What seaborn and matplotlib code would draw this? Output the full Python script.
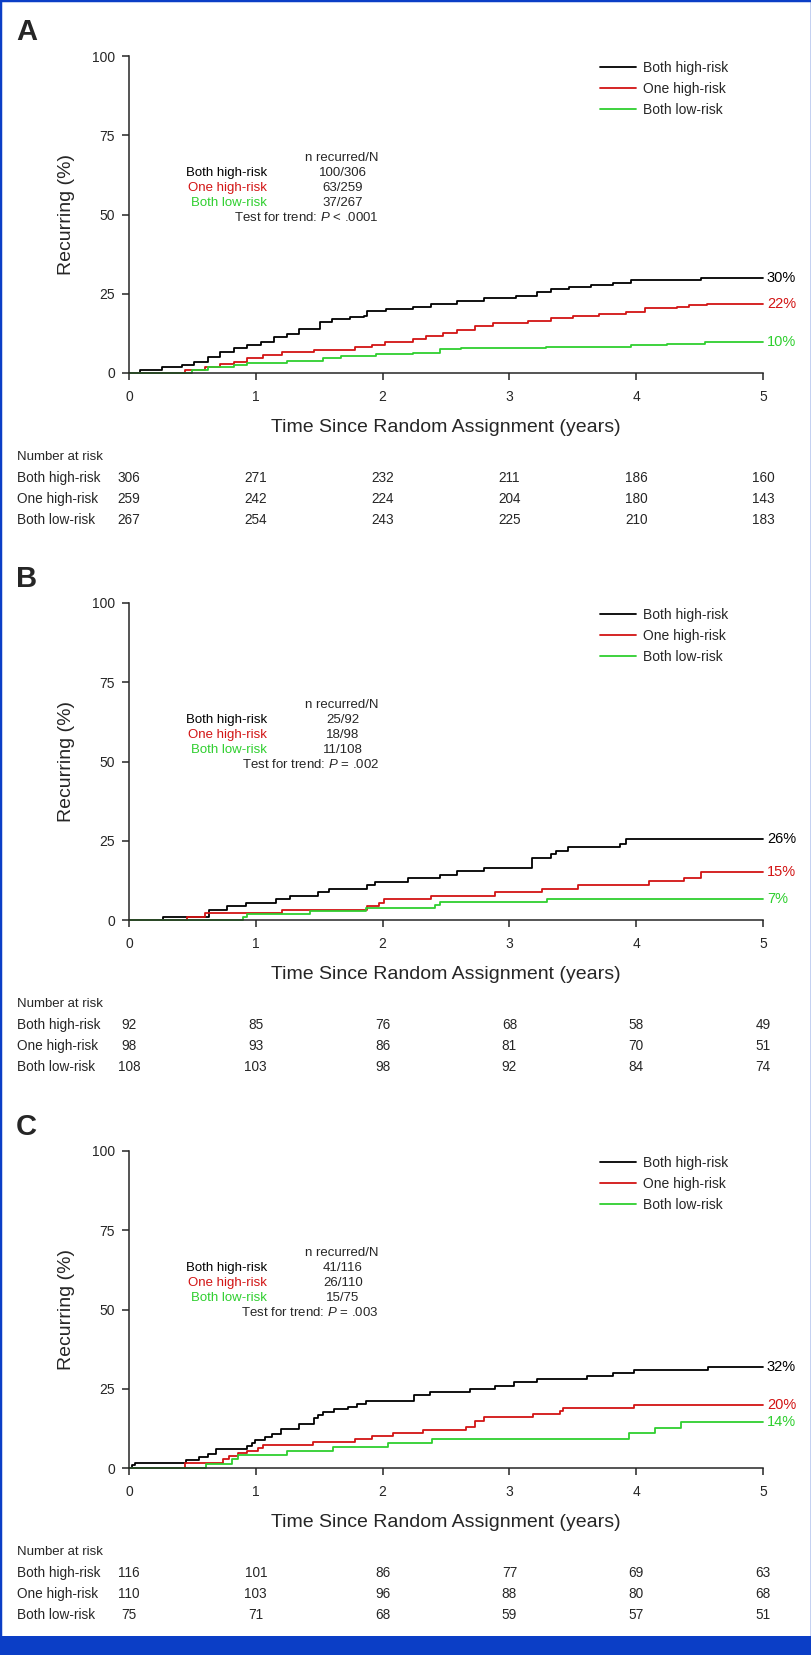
import numpy as np
import pandas as pd
import matplotlib
matplotlib.use("Agg")
import matplotlib.pyplot as plt
import matplotlib.transforms as mtransforms
from matplotlib.patches import Rectangle
import seaborn as sns

# ── data ─────────────────────────────────────────────────────

GROUPS = ["Both high-risk", "One high-risk", "Both low-risk"]
COLORS = {"Both high-risk": "#000000",
          "One high-risk": "#d21414",
          "Both low-risk": "#2fcf2f"}
YEARS = [0, 1, 2, 3, 4, 5]
Y_TICKS = [0, 25, 50, 75, 100]

# Panel A
a_high_t = [0, 0.09, 0.26, 0.42, 0.51, 0.62, 0.72, 0.83, 0.93, 1.04, 1.14, 1.25,
            1.34, 1.51, 1.60, 1.74, 1.85, 1.88, 2.03, 2.24, 2.38, 2.59, 2.80,
            3.05, 3.22, 3.33, 3.47, 3.64, 3.82, 3.96, 4.51, 5.0]
a_high_y = [0, 1.0, 1.8, 2.5, 3.6, 5.2, 6.7, 7.8, 8.8, 9.9, 11.3, 12.3,
            13.8, 16.2, 17.0, 17.6, 18.0, 19.7, 20.1, 20.7, 21.8, 22.8, 23.8,
            24.3, 25.5, 26.4, 27.0, 27.8, 28.3, 29.2, 30.1, 30.1]
a_one_t = [0, 0.44, 0.60, 0.72, 0.83, 0.93, 1.06, 1.21, 1.46, 1.78, 1.92, 2.02,
           2.24, 2.34, 2.48, 2.59, 2.73, 2.87, 3.15, 3.33, 3.50, 3.71, 3.92,
           4.07, 4.32, 4.42, 4.56, 5.0]
a_one_y = [0, 1.0, 2.0, 2.7, 3.6, 4.6, 5.7, 6.7, 7.2, 8.1, 8.8, 9.9,
           10.6, 11.7, 12.5, 13.6, 14.8, 15.9, 16.5, 17.3, 18.0, 18.6, 19.4,
           20.4, 20.9, 21.5, 21.8, 21.8]
a_low_t = [0, 0.50, 0.62, 0.83, 0.93, 1.25, 1.53, 1.67, 1.95, 2.24, 2.45, 2.62,
           3.29, 3.96, 4.24, 4.54, 5.0]
a_low_y = [0, 1.0, 1.8, 2.5, 3.3, 3.8, 4.6, 5.4, 6.0, 6.4, 7.5, 7.8,
           8.1, 8.7, 9.2, 9.8, 9.8]
a_end = ["30%", "22%", "10%"]
a_recurred = ["100/306", "63/259", "37/267"]
a_p = "< .0001"
a_risk = [[306, 271, 232, 211, 186, 160],
          [259, 242, 224, 204, 180, 143],
          [267, 254, 243, 225, 210, 183]]

# Panel B
b_high_t = [0, 0.27, 0.63, 0.77, 0.92, 1.16, 1.27, 1.49, 1.58, 1.88, 1.94, 2.20,
            2.45, 2.59, 2.80, 3.18, 3.33, 3.37, 3.46, 3.87, 3.92, 5.0]
b_high_y = [0, 1.1, 3.3, 4.4, 5.5, 6.6, 7.7, 8.8, 9.9, 11.0, 12.1, 13.2,
            14.3, 15.4, 16.5, 19.6, 20.7, 21.8, 22.9, 24.1, 25.6, 25.6]
b_one_t = [0, 0.46, 0.60, 1.21, 1.88, 1.97, 2.01, 2.38, 2.89, 3.26, 3.54, 4.10,
           4.38, 4.51, 5.0]
b_one_y = [0, 1.1, 2.2, 3.3, 4.4, 5.5, 6.6, 7.7, 8.8, 9.9, 11.0, 12.2,
           13.4, 15.2, 15.2]
b_low_t = [0, 0.90, 0.93, 1.43, 1.87, 2.41, 2.45, 3.30, 5.0]
b_low_y = [0, 0.9, 1.9, 2.8, 3.7, 4.6, 5.7, 6.7, 6.7]
b_end = ["26%", "15%", "7%"]
b_recurred = ["25/92", "18/98", "11/108"]
b_p = "= .002"
b_risk = [[92, 85, 76, 68, 58, 49],
          [98, 93, 86, 81, 70, 51],
          [108, 103, 98, 92, 84, 74]]

# Panel C
c_high_t = [0, 0.02, 0.05, 0.45, 0.55, 0.62, 0.69, 0.93, 0.97, 0.99, 1.07, 1.13,
            1.20, 1.34, 1.46, 1.49, 1.53, 1.62, 1.73, 1.80, 1.87, 2.25, 2.37,
            2.69, 2.89, 3.04, 3.22, 3.61, 3.82, 3.98, 4.57, 5.0]
c_high_y = [0, 0.9, 1.7, 2.6, 3.5, 4.4, 6.1, 7.0, 7.9, 8.8, 9.7, 10.6,
            12.3, 14.0, 15.8, 16.7, 17.6, 18.5, 19.4, 20.3, 21.1, 23.1, 24.0,
            25.0, 26.0, 27.0, 28.0, 29.0, 30.0, 31.0, 32.0, 32.0]
c_one_t = [0, 0.44, 0.74, 0.79, 0.86, 0.93, 1.02, 1.06, 1.45, 1.78, 1.92, 2.08,
           2.32, 2.66, 2.73, 2.80, 3.19, 3.40, 3.42, 3.98, 5.0]
c_one_y = [0, 1.7, 2.7, 3.7, 4.6, 5.5, 6.4, 7.3, 8.2, 9.1, 10.0, 11.1,
           12.1, 13.0, 14.9, 16.0, 17.0, 18.0, 18.9, 19.9, 19.9]
c_low_t = [0, 0.61, 0.81, 0.86, 1.25, 1.61, 2.04, 2.39, 3.94, 4.15, 4.35, 5.0]
c_low_y = [0, 1.3, 2.7, 4.0, 5.3, 6.7, 8.0, 9.3, 10.9, 12.6, 14.4, 14.4]
c_end = ["32%", "20%", "14%"]
c_recurred = ["41/116", "26/110", "15/75"]
c_p = "= .003"
c_risk = [[116, 101, 86, 77, 69, 63],
          [110, 103, 96, 88, 80, 68],
          [75, 71, 68, 59, 57, 51]]

# ── style ─────────────────────────────────────────────────────

sns.set_style("ticks")
plt.rcParams["font.family"] = ["Liberation Sans", "DejaVu Sans"]
plt.rcParams["mathtext.fontset"] = "custom"
plt.rcParams["mathtext.rm"] = "Liberation Sans"
plt.rcParams["mathtext.it"] = "Liberation Sans:italic"

W, H = 812, 1655
BLUE = "#0b3ec6"
AX_L, AX_R = 129, 763


def fy(py):
    """pixel row (from top) -> figure fraction"""
    return 1 - py / H


def draw_panel(fig, top, letter, curves, ends, recurred, p_text, risk):
    bottom = top + 317
    ax = fig.add_axes([AX_L / W, fy(bottom), (AX_R - AX_L) / W, 317 / H])

    frames = [pd.DataFrame({"time": t, "pct": y, "group": g})
              for g, (t, y) in zip(GROUPS, curves)]
    df = pd.concat(frames, ignore_index=True)
    sns.lineplot(data=df, x="time", y="pct", hue="group", hue_order=GROUPS,
                 palette=COLORS, estimator=None, drawstyle="steps-post",
                 linewidth=1.3, clip_on=False, ax=ax)

    ax.set_xlim(0, 5)
    ax.set_ylim(0, 100)
    ax.set_xticks(YEARS)
    ax.set_yticks(Y_TICKS)
    sns.despine(ax=ax)
    for s in ("left", "bottom"):
        ax.spines[s].set_linewidth(1.1)
    ax.tick_params(axis="both", length=5, width=1.1, labelsize=10)
    ax.tick_params(axis="x", pad=7)
    ax.tick_params(axis="y", pad=5)
    ax.set_xlabel("Time Since Random Assignment (years)", fontsize=14,
                  labelpad=11)
    ax.set_ylabel("Recurring (%)", fontsize=14, labelpad=12)

    sns.move_legend(ax, "upper left", bbox_to_anchor=(0.743, 0.985),
                    frameon=False, title=None, fontsize=10,
                    handlelength=2.6, handletextpad=0.5, labelspacing=0.5,
                    borderpad=0, borderaxespad=0)

    # end-of-curve percentages
    for g, (t, y), lab in zip(GROUPS, curves, ends):
        ax.text(5.03, y[-1], lab, color=COLORS[g], fontsize=10.5,
                ha="left", va="center", clip_on=False)

    # n recurred / N block
    ax.text(1.97, 67.8, "n recurred/N", fontsize=9.5, ha="right", va="center")
    for i, g in enumerate(GROUPS):
        yy = 63.1 - 4.7 * i
        ax.text(1.088, yy, g, color=COLORS[g], fontsize=9.5,
                ha="right", va="center")
        ax.text(1.688, yy, recurred[i], fontsize=9.5, ha="center", va="center")
    ax.text(1.97, 48.9, "Test for trend: $P$ " + p_text, fontsize=9.5,
            ha="right", va="center")

    # panel letter
    fig.text(16 / W, fy(top - 24), letter, fontsize=21, fontweight="bold",
             ha="left", va="center")

    # number at risk table
    tr = mtransforms.blended_transform_factory(ax.transData, fig.transFigure)
    fig.text(17 / W, fy(top + 401), "Number at risk", fontsize=9.5,
             ha="left", va="center")
    for i, g in enumerate(GROUPS):
        py = top + 422 + 21 * i
        fig.text(17 / W, fy(py), g, fontsize=9.8, ha="left", va="center")
        for yr, n in zip(YEARS, risk[i]):
            ax.text(yr, fy(py), str(n), transform=tr, fontsize=9.8,
                    ha="center", va="center", clip_on=False)
    return ax


fig = plt.figure(figsize=(W / 100, H / 100), dpi=100)
fig.patch.set_facecolor("white")

draw_panel(fig, 56, "A",
           [(a_high_t, a_high_y), (a_one_t, a_one_y), (a_low_t, a_low_y)],
           a_end, a_recurred, a_p, a_risk)
draw_panel(fig, 603, "B",
           [(b_high_t, b_high_y), (b_one_t, b_one_y), (b_low_t, b_low_y)],
           b_end, b_recurred, b_p, b_risk)
draw_panel(fig, 1151, "C",
           [(c_high_t, c_high_y), (c_one_t, c_one_y), (c_low_t, c_low_y)],
           c_end, c_recurred, c_p, c_risk)

# blue frame and bottom band
fig.patches.append(Rectangle((0, 0), 1, 1, transform=fig.transFigure,
                             fill=False, edgecolor=BLUE, linewidth=2.5))
fig.patches.append(Rectangle((0, 0), 1, 19 / H, transform=fig.transFigure,
                             facecolor=BLUE, edgecolor="none"))

fig.savefig("out.png", dpi=100)
plt.close(fig)
